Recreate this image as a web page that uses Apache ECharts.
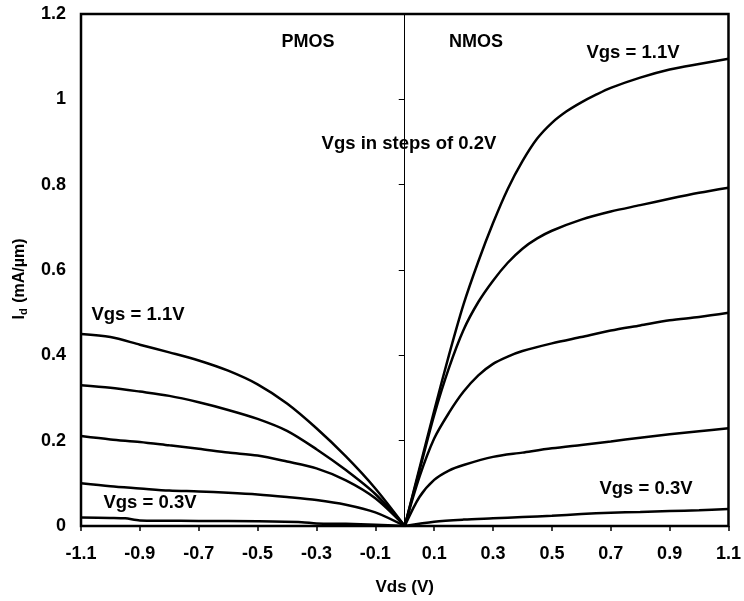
<!DOCTYPE html>
<html>
<head>
<meta charset="utf-8">
<script src="https://cdn.jsdelivr.net/npm/echarts@6/dist/echarts.min.js"></script>
<style>html,body{margin:0;padding:0;background:#fff;}#c{width:744px;height:601px;}</style>
</head>
<body>
<div id="c"></div>
<script>
// ---- data (Vds in V, Id in mA/µm) ----
const xTickValues = [-1.1, -0.9, -0.7, -0.5, -0.3, -0.1, 0.1, 0.3, 0.5, 0.7, 0.9, 1.1];
const yTickValues = [0, 0.2, 0.4, 0.6, 0.8, 1, 1.2];

const nmos11 = [[0,0],[0.05,0.135],[0.1,0.27],[0.15,0.4],[0.2,0.52],[0.25,0.62],[0.3,0.71],[0.35,0.79],[0.4,0.855],[0.45,0.908],[0.5,0.945],[0.55,0.972],[0.6,0.993],[0.65,1.011],[0.7,1.027],[0.8,1.051],[0.9,1.07],[1.0,1.083],[1.1,1.095]];
const nmos09 = [[0,0],[0.05,0.13],[0.1,0.26],[0.15,0.37],[0.2,0.46],[0.25,0.525],[0.3,0.575],[0.35,0.617],[0.4,0.65],[0.45,0.674],[0.5,0.692],[0.6,0.718],[0.7,0.737],[0.8,0.752],[0.9,0.767],[1.0,0.781],[1.1,0.793]];
const nmos07 = [[0,0],[0.05,0.115],[0.1,0.205],[0.15,0.265],[0.2,0.315],[0.25,0.353],[0.3,0.38],[0.35,0.397],[0.4,0.41],[0.5,0.428],[0.6,0.443],[0.7,0.458],[0.8,0.47],[0.9,0.482],[1.0,0.49],[1.1,0.5]];
const nmos05 = [[0,0],[0.05,0.068],[0.1,0.108],[0.15,0.13],[0.2,0.143],[0.3,0.162],[0.4,0.172],[0.5,0.182],[0.6,0.19],[0.7,0.198],[0.8,0.207],[0.9,0.215],[1.0,0.222],[1.1,0.229]];
const nmos03 = [[0,0],[0.1,0.01],[0.2,0.015],[0.3,0.018],[0.4,0.021],[0.5,0.024],[0.6,0.028],[0.7,0.031],[0.8,0.033],[0.9,0.035],[1.0,0.037],[1.1,0.04]];

const pmos11 = [[-1.1,0.45],[-1.0,0.443],[-0.9,0.425],[-0.8,0.407],[-0.7,0.388],[-0.6,0.364],[-0.5,0.332],[-0.4,0.287],[-0.3,0.229],[-0.2,0.163],[-0.1,0.088],[0,0]];
const pmos09 = [[-1.1,0.33],[-1.0,0.324],[-0.9,0.315],[-0.8,0.305],[-0.7,0.29],[-0.6,0.272],[-0.5,0.251],[-0.4,0.223],[-0.3,0.18],[-0.2,0.131],[-0.1,0.075],[0,0]];
const pmos07 = [[-1.1,0.211],[-1.0,0.203],[-0.9,0.197],[-0.8,0.189],[-0.7,0.181],[-0.6,0.172],[-0.5,0.165],[-0.4,0.151],[-0.3,0.135],[-0.2,0.107],[-0.1,0.065],[0,0]];
const pmos05 = [[-1.1,0.1],[-1.0,0.093],[-0.9,0.088],[-0.8,0.083],[-0.7,0.081],[-0.6,0.078],[-0.5,0.074],[-0.4,0.068],[-0.3,0.061],[-0.2,0.05],[-0.1,0.032],[0,0]];
const pmos03 = [[-1.1,0.02],[-1.0,0.019],[-0.95,0.018],[-0.9,0.013],[-0.7,0.012],[-0.5,0.011],[-0.35,0.009],[-0.3,0.006],[-0.2,0.005],[-0.1,0.003],[0,0]];

const seriesData = [nmos11, nmos09, nmos07, nmos05, nmos03, pmos11, pmos09, pmos07, pmos05, pmos03];

const FONT = '"Liberation Sans", Arial, sans-serif';
const txt = (text, x, y, size) => ({
  type: 'text', x: x, y: y,
  style: { text: text, fill: '#000', font: 'bold ' + size + 'px ' + FONT, align: 'center', verticalAlign: 'middle' }
});

const chart = echarts.init(document.getElementById('c'), null, {renderer: 'canvas'});
chart.setOption({
  animation: false,
  backgroundColor: '#fff',
  grid: { left: 81, top: 14, right: 11, bottom: 74, show: true, borderColor: '#000', borderWidth: 2.5, backgroundColor: 'transparent' },
  xAxis: {
    type: 'value', min: -1.1, max: 1.1,
    name: 'Vds (V)', nameLocation: 'middle', nameGap: 53,
    nameTextStyle: { fontFamily: FONT, fontWeight: 'bold', fontSize: 17, color: '#000' },
    axisLine: { show: false, onZero: false },
    axisTick: { show: true, inside: false, length: 5, customValues: xTickValues, lineStyle: { color: '#000', width: 1.5 } },
    axisLabel: { customValues: xTickValues, formatter: v => v.toFixed(1), margin: 19, fontFamily: FONT, fontWeight: 'bold', fontSize: 18, color: '#000' },
    splitLine: { show: false }
  },
  yAxis: [{
    type: 'value', min: 0, max: 1.2, interval: 0.2, position: 'left',
    axisLine: { show: false, onZero: false },
    axisTick: { show: false },
    axisLabel: { margin: 15, fontFamily: FONT, fontWeight: 'bold', fontSize: 18, color: '#000' },
    splitLine: { show: false }
  }, {
    type: 'value', min: 0, max: 1.2, interval: 0.2, position: 'left',
    axisLine: { show: true, onZero: true, lineStyle: { color: '#000', width: 1 } },
    axisTick: { show: true, inside: false, length: 6, lineStyle: { color: '#000', width: 1 } },
    axisLabel: { show: false },
    splitLine: { show: false }
  }],
  series: seriesData.map(d => ({
    type: 'line', data: d, showSymbol: false, smooth: 0.3,
    lineStyle: { color: '#000', width: 2.5 }, silent: true
  })),
  graphic: [
    {
      type: 'text', x: 20, y: 279, rotation: Math.PI / 2,
      style: {
        text: '{a|I}{b|d}{a| (mA/µm)}', align: 'center', verticalAlign: 'middle', fill: '#000',
        rich: {
          a: { fontFamily: FONT, fontWeight: 'bold', fontSize: 16, fill: '#000' },
          b: { fontFamily: FONT, fontWeight: 'bold', fontSize: 11, fill: '#000', padding: [7, 1, 0, 0] }
        }
      }
    },
    txt('PMOS', 308, 42, 18),
    txt('NMOS', 476, 42, 18),
    txt('Vgs in steps of 0.2V', 409, 144, 18.5),
    txt('Vgs = 1.1V', 633, 53, 18.5),
    txt('Vgs = 1.1V', 138, 315, 18.5),
    txt('Vgs = 0.3V', 150, 503, 18.5),
    txt('Vgs = 0.3V', 646, 489, 18.5)
  ]
});
</script>
</body>
</html>
